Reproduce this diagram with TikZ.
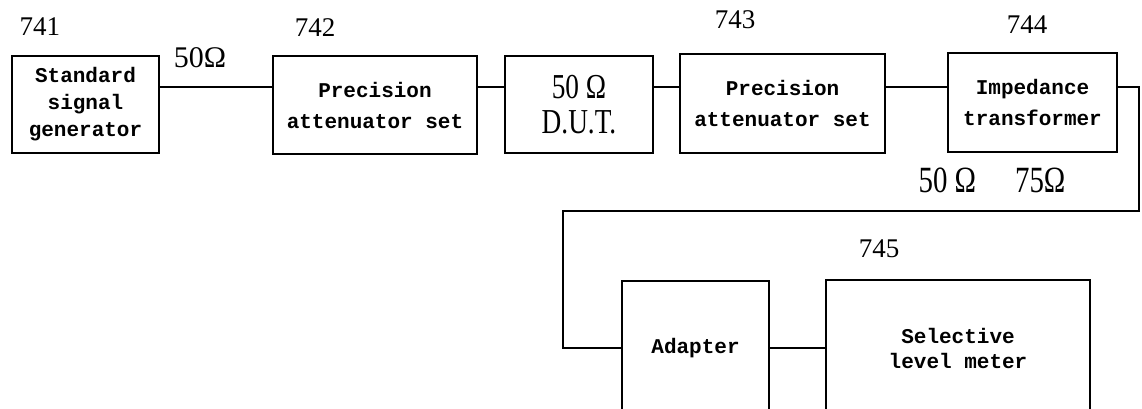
\documentclass[tikz,border=0pt]{standalone}
\usepackage{fontspec}
\usepackage{graphicx}
\setmainfont{Liberation Serif}
\newfontfamily\boxfont{Liberation Mono}
\usetikzlibrary{positioning}
\newcommand{\narrow}[1]{\scalebox{0.78}[1]{#1}}

\begin{document}
\begin{tikzpicture}[x=1pt, y=-1pt,
  unit/.style={draw, line width=1.8pt, inner sep=0pt, align=center, font=\boxfont\bfseries\fontsize{21}{31}\selectfont},
  refno/.style={font=\fontsize{27}{30}\selectfont, inner sep=0pt},
  ohm/.style={font=\fontsize{37}{37}\selectfont, inner sep=0pt},
  wire/.style={line width=1.8pt}
]
\useasboundingbox (0,0) rectangle (1142,409);
\clip (0,0) rectangle (1142,409);
% upper chain
\node[unit, minimum width=147pt, minimum height=97pt, font=\boxfont\bfseries\fontsize{21}{27}\selectfont] (gen) at (85.5,104.5) {Standard\\signal\\generator};
\node[unit, minimum width=204pt, minimum height=98pt] (att1) at (375,105) {Precision\\attenuator set};
\node[unit, minimum width=148pt, minimum height=97pt, font=\fontsize{35}{35}\selectfont] (dut) at (579,104.5) {\narrow{50 Ω}\\\narrow{D.U.T.}};
\node[unit, minimum width=205pt, minimum height=99pt] (att2) at (782.5,103.5) {Precision\\attenuator set};
\node[unit, minimum width=169pt, minimum height=99pt] (imp) at (1032.5,102.5) {Impedance\\transformer};
% lower chain (bottom runs off the sheet)
\node[unit, minimum width=147pt, minimum height=134pt] (adapt) at (695.5,348) {Adapter};
\node[unit, minimum width=264pt, minimum height=136pt, font=\boxfont\bfseries\fontsize{21}{25}\selectfont] (meter) at (958,348) {Selective\\level meter};
% reference numbers
\node[refno] (n741) at (40,27) {741};
\node[refno] (n742) at (315,28) {742};
\node[refno] (n743) at (735,20) {743};
\node[refno] (n744) at (1027,25) {744};
\node[refno] (n745) at (879,249) {745};
% impedances
\node[ohm, font=\fontsize{30}{30}\selectfont] (z1) at (200,58) {50Ω};
\node[ohm] (z2) at (992,180) {\narrow{50 Ω\hspace{50pt}75Ω}};
% wiring
\coordinate (bus) at (0,87);
\coordinate (riseR) at (1139,211);
\coordinate (riseL) at (563,211);
\draw[wire] (gen.east |- bus) -- (att1.west |- bus);
\draw[wire] (att1.east |- bus) -- (dut.west |- bus);
\draw[wire] (dut.east |- bus) -- (att2.west |- bus);
\draw[wire] (att2.east |- bus) -- (imp.west |- bus);
\draw[wire] (imp.east |- bus) -| (riseR) -- (riseL) |- (adapt.west);
\draw[wire] (adapt) -- (meter);
\end{tikzpicture}
\end{document}
